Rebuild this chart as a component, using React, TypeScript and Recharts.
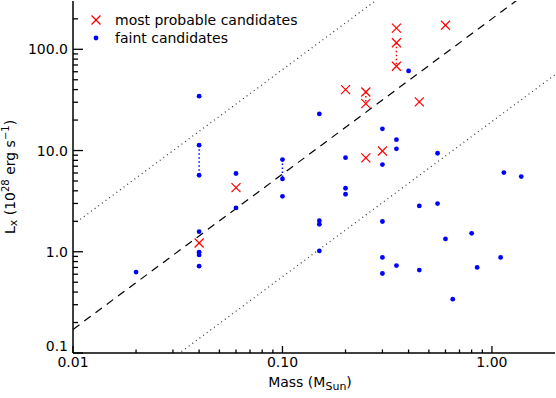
import { ScatterChart, Scatter, XAxis, YAxis, Label } from "recharts";

// valores (massa em M_sun, Lx em 10^28 erg/s)
const probableMass = [0.04, 0.06, 0.2, 0.25, 0.25, 0.25, 0.3, 0.35, 0.35, 0.35, 0.45, 0.6];
const probableLx = [1.22, 4.3, 40, 37.9, 29.1, 8.45, 9.9, 162, 116, 68, 30.2, 173];

const faintMass = [
  0.02, 0.04, 0.04, 0.04, 0.04, 0.04, 0.04, 0.04, 0.06, 0.06, 0.1, 0.1, 0.1,
  0.15, 0.15, 0.15, 0.15, 0.2, 0.2, 0.2, 0.3, 0.3, 0.3, 0.3, 0.3, 0.35, 0.35,
  0.35, 0.4, 0.45, 0.45, 0.55, 0.55, 0.6, 0.65, 0.8, 0.85, 1.1, 1.14, 1.38,
];
const faintLx = [
  0.63, 34.4, 11.3, 5.7, 1.58, 0.99, 0.93, 0.72, 5.93, 2.71, 8.15, 5.24, 3.53,
  23.0, 2.03, 1.87, 1.02, 8.5, 4.24, 3.7, 16.4, 7.27, 1.99, 0.88, 0.61, 12.8,
  10.4, 0.73, 61.2, 2.84, 0.66, 9.4, 2.99, 1.34, 0.34, 1.52, 0.7, 0.88, 6.06,
  5.53,
];

// pares ligados por linha pontilhada
const faintLinks = [
  [{ m: 0.04, l: 11.3 }, { m: 0.04, l: 5.7 }],
  [{ m: 0.1, l: 8.15 }, { m: 0.1, l: 5.24 }],
  [{ m: 0.04, l: 0.99 }, { m: 0.04, l: 0.93 }],
];
const probableLinks = [
  [{ m: 0.25, l: 37.9 }, { m: 0.25, l: 29.1 }],
  [{ m: 0.35, l: 116 }, { m: 0.35, l: 68 }],
];

// reta ajustada e as faixas de +-1 dex
const fitLine = [{ m: 0.01, l: 0.171 }, { m: 2, l: 580 }];
const upperLine = [{ m: 0.01, l: 1.85 }, { m: 2, l: 6200 }];
const lowerLine = [{ m: 0.01, l: 0.0166 }, { m: 2, l: 56 }];

const xMajor = [0.01, 0.1, 1];
const xMinor = [0.02, 0.03, 0.04, 0.05, 0.06, 0.07, 0.08, 0.09, 0.2, 0.3, 0.4, 0.5, 0.6, 0.7, 0.8, 0.9];
const xLabels = ["0.01", "0.10", "1.00"];
const yMajor = [0.1, 1, 10, 100];
const yMinor = [
  0.2, 0.3, 0.4, 0.5, 0.6, 0.7, 0.8, 0.9, 2, 3, 4, 5, 6, 7, 8, 9, 20, 30, 40,
  50, 60, 70, 80, 90, 200,
];
const yLabels = ["0.1", "1.0", "10.0", "100.0"];

const probable = probableMass.map((m, i) => ({ m, l: probableLx[i] }));
const faint = faintMass.map((m, i) => ({ m, l: faintLx[i] }));

const FONT = "'DejaVu Sans', sans-serif";
const xTicks = [...xMajor, ...xMinor];
const yTicks = [...yMajor, ...yMinor];

const Cross = ({ cx, cy }: any) => (
  <g stroke="#ff0000" strokeWidth={1.2}>
    <line x1={cx - 4.5} y1={cy - 4.5} x2={cx + 4.5} y2={cy + 4.5} />
    <line x1={cx - 4.5} y1={cy + 4.5} x2={cx + 4.5} y2={cy - 4.5} />
  </g>
);

const Dot = ({ cx, cy }: any) => <circle cx={cx} cy={cy} r={2.4} fill="#0000ff" />;

const NoShape = () => <g />;

// ticks para dentro, estilo IDL
const makeTick = (side: string) => (props: any) => {
  const { x, y, payload } = props;
  const v = payload.value;
  const xi = xMajor.indexOf(v);
  const yi = yMajor.indexOf(v);
  const major = side === "bottom" || side === "top" ? xi >= 0 : yi >= 0;
  if (side === "bottom") {
    const len = major ? 7 : 3.5;
    return (
      <g>
        <line x1={x} y1={y} x2={x} y2={y - len} stroke="#000" strokeWidth={1.3} />
        {major && (
          <text x={x} y={y + 14} textAnchor="middle" fontSize={14} fontFamily={FONT} fill="#000">
            {xLabels[xi]}
          </text>
        )}
      </g>
    );
  }
  if (side === "top") {
    const len = major ? 7 : 3.5;
    return <line x1={x} y1={y} x2={x} y2={y + len} stroke="#000" strokeWidth={1.3} />;
  }
  if (side === "left") {
    const len = major ? 10 : 5;
    // o rótulo de baixo (0.1) fica acima do tick para não encostar no 0.01
    const dy = yi === 0 ? -2 : 5;
    return (
      <g>
        <line x1={x} y1={y} x2={x + len} y2={y} stroke="#000" strokeWidth={1.3} />
        {major && (
          <text x={x - 5} y={y + dy} textAnchor="end" fontSize={14} fontFamily={FONT} fill="#000">
            {yLabels[yi]}
          </text>
        )}
      </g>
    );
  }
  const len = major ? 10 : 5;
  return <line x1={x} y1={y} x2={x - len} y2={y} stroke="#000" strokeWidth={1.3} />;
};

// legenda desenhada por cima do gráfico
const LegendBox = () => (
  <svg
    width={240}
    height={50}
    style={{ position: "absolute", left: 85, top: 8, fontFamily: FONT, fontSize: 14 }}
  >
    <Cross cx={11} cy={12} />
    <text x={30} y={17} fill="#000">most probable candidates</text>
    <Dot cx={11} cy={30} />
    <text x={30} y={35} fill="#000">faint candidates</text>
  </svg>
);

const XTitle = ({ viewBox }: any) => {
  const cx = viewBox.x + viewBox.width / 2;
  return (
    <text x={cx - 4} y={387} textAnchor="middle" fontSize={14} fontFamily={FONT} fill="#000">
      Mass (M
      <tspan fontSize={11} dy={3}>Sun</tspan>
      <tspan dy={-3}>)</tspan>
    </text>
  );
};

const YTitle = () => (
  <text
    x={0}
    y={0}
    transform="translate(15,177) rotate(-90)"
    textAnchor="middle"
    fontSize={14}
    fontFamily={FONT}
    fill="#000"
  >
    L<tspan fontSize={11} dy={2}>x</tspan>
    <tspan dy={-2}> (10</tspan>
    <tspan fontSize={10} dy={-6}>28</tspan>
    <tspan dy={6}> erg s</tspan>
    <tspan fontSize={10} dy={-6}>−1</tspan>
    <tspan dy={6}>)</tspan>
  </text>
);

export default function App() {
  return (
    <div style={{ position: "absolute", left: 0, top: 0, width: 556, height: 398 }}>
      <ScatterChart
        width={556}
        height={398}
        margin={{ top: 1, right: 1, bottom: 0, left: 0 }}
        style={{ background: "#fff" }}
      >
        <XAxis
          dataKey="m"
          type="number"
          scale="log"
          domain={[0.01, 2]}
          allowDataOverflow
          ticks={xTicks}
          interval={0}
          tickSize={0}
          tickMargin={0}
          tickLine={false}
          tick={makeTick("bottom")}
          height={45}
          axisLine={{ stroke: "#000", strokeWidth: 1.5 }}
        >
          <Label content={<XTitle />} />
        </XAxis>
        <XAxis
          xAxisId="top"
          orientation="top"
          dataKey="m"
          type="number"
          scale="log"
          domain={[0.01, 2]}
          allowDataOverflow
          ticks={xTicks}
          interval={0}
          tickSize={0}
          tickMargin={0}
          tickLine={false}
          tick={makeTick("top")}
          height={0}
          axisLine={{ stroke: "#000", strokeWidth: 1.5 }}
        />
        <YAxis
          dataKey="l"
          type="number"
          scale="log"
          domain={[0.1, 300]}
          allowDataOverflow
          ticks={yTicks}
          interval={0}
          tickSize={0}
          tickMargin={0}
          tickLine={false}
          tick={makeTick("left")}
          width={73}
          axisLine={{ stroke: "#000", strokeWidth: 1.5 }}
        >
          <Label content={<YTitle />} />
        </YAxis>
        <YAxis
          yAxisId="right"
          orientation="right"
          dataKey="l"
          type="number"
          scale="log"
          domain={[0.1, 300]}
          allowDataOverflow
          ticks={yTicks}
          interval={0}
          tickSize={0}
          tickMargin={0}
          tickLine={false}
          tick={makeTick("right")}
          width={0}
          axisLine={{ stroke: "#000", strokeWidth: 1.5 }}
        />

        <Scatter
          data={upperLine}
          shape={<NoShape />}
          line={{ stroke: "#333", strokeWidth: 1.2, strokeDasharray: "1 3.5" }}
          legendType="none"
          isAnimationActive={false}
        />
        <Scatter
          data={lowerLine}
          shape={<NoShape />}
          line={{ stroke: "#333", strokeWidth: 1.2, strokeDasharray: "1 3.5" }}
          legendType="none"
          isAnimationActive={false}
        />
        <Scatter
          data={fitLine}
          shape={<NoShape />}
          line={{ stroke: "#000", strokeWidth: 1.2, strokeDasharray: "8 6" }}
          legendType="none"
          isAnimationActive={false}
        />
        {faintLinks.map((d, i) => (
          <Scatter
            key={"fl" + i}
            data={d}
            shape={<NoShape />}
            line={{ stroke: "#0000ff", strokeWidth: 1.5, strokeDasharray: "1.5 2.5" }}
            legendType="none"
            isAnimationActive={false}
          />
        ))}
        {probableLinks.map((d, i) => (
          <Scatter
            key={"pl" + i}
            data={d}
            shape={<NoShape />}
            line={{ stroke: "#ff0000", strokeWidth: 1.5, strokeDasharray: "1.5 2.5" }}
            legendType="none"
            isAnimationActive={false}
          />
        ))}
        <Scatter
          name="faint candidates"
          data={faint}
          shape={<Dot />}
          isAnimationActive={false}
        />
        <Scatter
          name="most probable candidates"
          data={probable}
          shape={<Cross />}
          isAnimationActive={false}
        />
      </ScatterChart>
      <LegendBox />
    </div>
  );
}
